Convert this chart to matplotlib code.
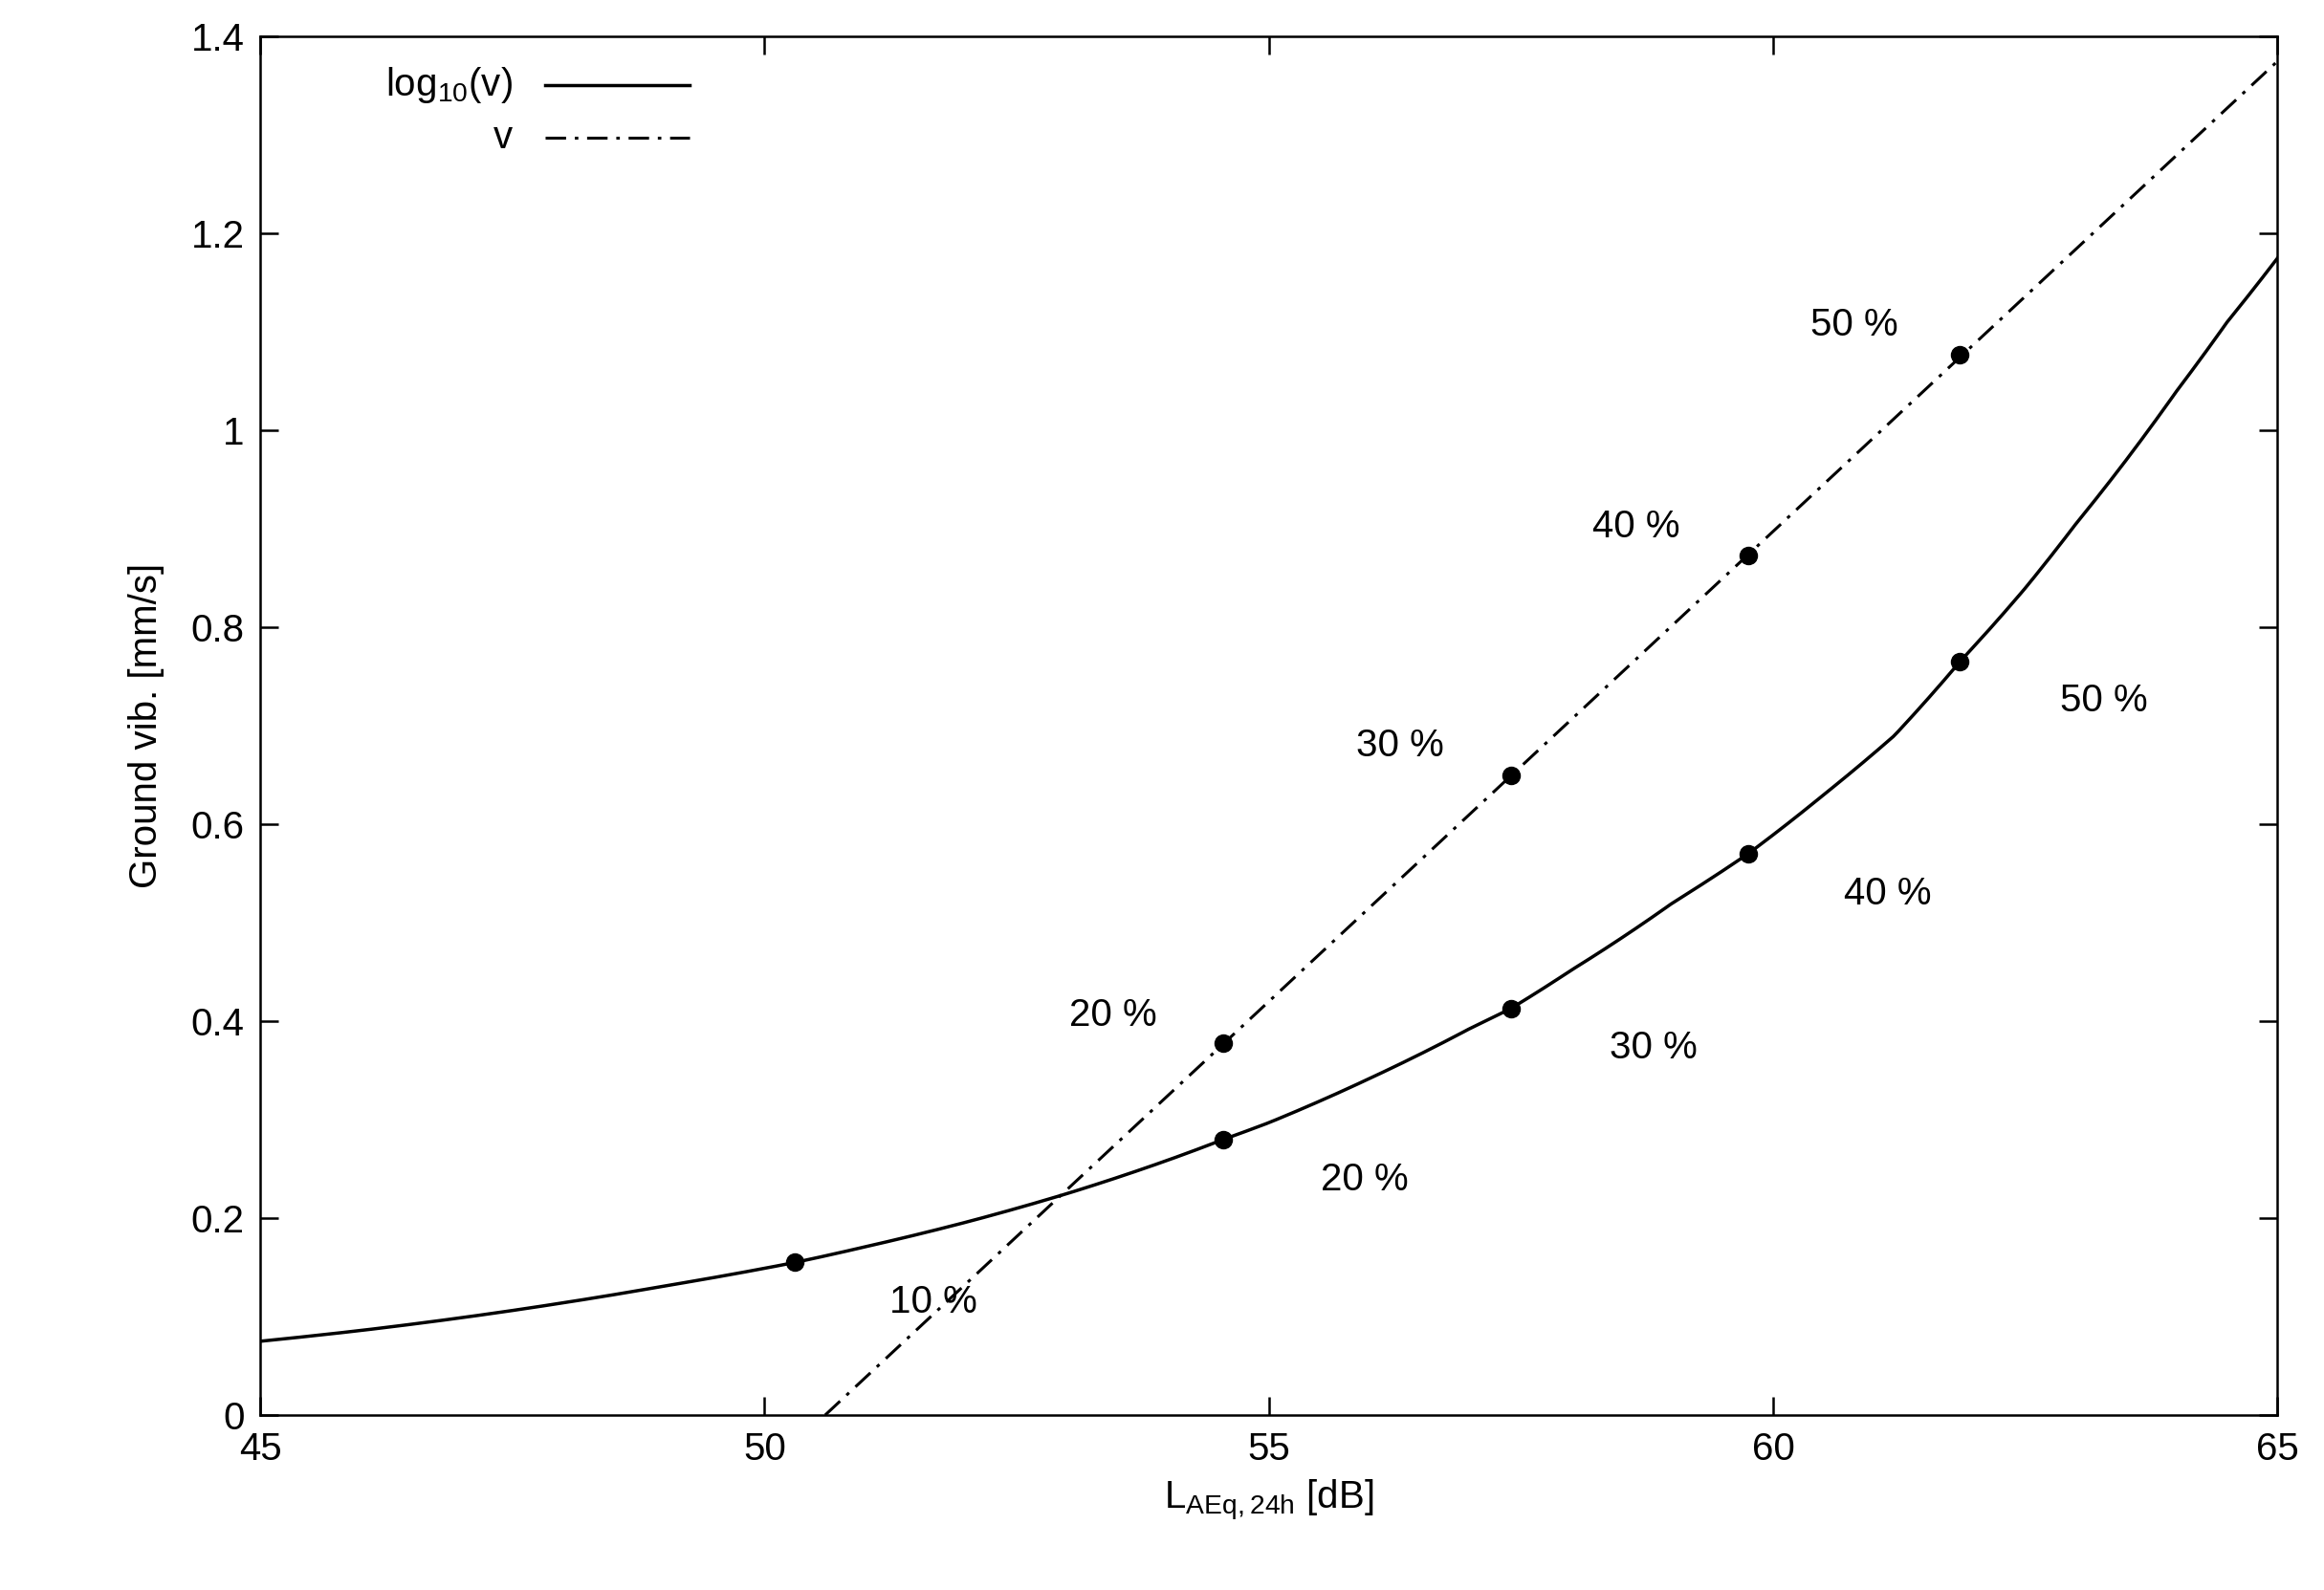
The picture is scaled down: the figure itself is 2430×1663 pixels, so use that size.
import matplotlib
matplotlib.use("Agg")
import matplotlib.pyplot as plt
import numpy as np

plt.rcParams['font.family'] = ['Liberation Sans', 'DejaVu Sans']
plt.rcParams['mathtext.fontset'] = 'custom'
plt.rcParams['mathtext.rm'] = 'Liberation Sans'

# log10(v) curve samples
curve_x = [45, 46, 47, 48, 49, 50.3, 51, 52, 53, 54, 54.55, 55, 56, 57, 57.4, 58, 59, 59.75, 60.5, 61.2, 61.85, 62.5, 63, 63.5, 64, 64.5, 65]
curve_y = [0.075, 0.086, 0.099, 0.114, 0.131, 0.155, 0.171, 0.196, 0.225, 0.259, 0.280, 0.297, 0.342, 0.393, 0.413, 0.452, 0.520, 0.570, 0.630, 0.690, 0.765, 0.84, 0.905, 0.97, 1.04, 1.11, 1.175]
log_pts_x = [50.3, 54.55, 57.4, 59.75, 61.85]
log_pts_y = [0.155, 0.280, 0.413, 0.570, 0.765]
log_labels = ["10 %", "20 %", "30 %", "40 %", "50 %"]
log_lab_x = [51.67, 55.95, 58.81, 61.13, 63.28]
log_lab_y = [0.115, 0.239, 0.373, 0.529, 0.725]

# v line
line_x = [50.6, 65]
line_y = [0.0, 1.375]
v_pts_x = [54.55, 57.4, 59.75, 61.85]
v_pts_y = [0.378, 0.650, 0.873, 1.077]
v_labels = ["20 %", "30 %", "40 %", "50 %"]
v_lab_x = [53.45, 56.3, 58.64, 60.8]
v_lab_y = [0.406, 0.68, 0.902, 1.107]

fs = 29
dash = (0, (7, 3, 1.2, 3))
fig = plt.figure(figsize=(24.3, 16.63), dpi=100)
ax = fig.add_axes([0.112, 0.110, 0.868, 0.867])
# smooth rendering of read samples (log-space drawing only)
xs = np.linspace(45, 65, 400)
ys = 10 ** np.interp(xs, curve_x, np.log10(curve_y))
ax.plot(xs, ys, color="black", lw=2.5)
ax.plot(line_x, line_y, color="black", lw=2.2, linestyle=dash)
ax.plot(log_pts_x, log_pts_y, "o", color="black", ms=13)
ax.plot(v_pts_x, v_pts_y, "o", color="black", ms=13)
for t, x, y in zip(log_labels, log_lab_x, log_lab_y):
    ax.text(x, y, t, ha="center", va="center", fontsize=fs)
for t, x, y in zip(v_labels, v_lab_x, v_lab_y):
    ax.text(x, y, t, ha="center", va="center", fontsize=fs)

ax.set_xlim(45, 65)
ax.set_ylim(0, 1.4)
ax.set_xticks([45, 50, 55, 60, 65])
ax.set_yticks([0, 0.2, 0.4, 0.6, 0.8, 1.0, 1.2, 1.4])
ax.set_yticklabels(["0", "0.2", "0.4", "0.6", "0.8", "1", "1.2", "1.4"])
ax.tick_params(direction="in", top=True, right=True, length=14, width=1.8, labelsize=fs, pad=12)
for s in ax.spines.values():
    s.set_linewidth(1.8)
ax.set_xlabel(r"L$_{\mathregular{AEq,24h}}$ [dB]", fontsize=fs, labelpad=8)
ax.set_ylabel("Ground vib. [mm/s]", fontsize=fs, labelpad=20)

# legend (gnuplot style)
ax.text(0.125, 0.965, r"log$_{\mathregular{10}}$(v)", transform=ax.transAxes, ha="right", va="center", fontsize=fs)
ax.plot([0.141, 0.213], [0.965, 0.965], transform=ax.transAxes, color="black", lw=2.5)
ax.text(0.125, 0.927, "v", transform=ax.transAxes, ha="right", va="center", fontsize=fs)
ax.plot([0.141, 0.213], [0.927, 0.927], transform=ax.transAxes, color="black", lw=2.2, linestyle=dash)

fig.savefig("out.png", dpi=100)
